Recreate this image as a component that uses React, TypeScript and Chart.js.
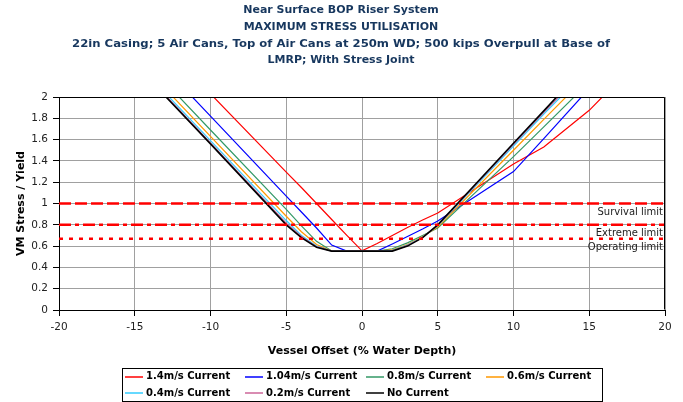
import React, { useEffect, useRef } from "react";
import { Chart, registerables } from "chart.js";

Chart.register(...registerables);

const TITLE_LINES = [
  "Near Surface BOP Riser System",
  "MAXIMUM STRESS UTILISATION",
  "22in Casing; 5 Air Cans, Top of Air Cans at 250m WD; 500 kips Overpull at Base of",
  "LMRP; With Stress Joint",
];
const X_AXIS_TITLE = "Vessel Offset (% Water Depth)";
const Y_AXIS_TITLE = "VM Stress / Yield";

const X_MIN = -20;
const X_MAX = 20;
const X_STEP = 5;
const Y_MIN = 0;
const Y_MAX = 2;
const Y_STEP = 0.2;

// Vessel offset (% water depth)
const OFFSETS = [-20, -15, -10, -5, -4, -3, -2, -1, 0, 1, 2, 3, 4, 5, 10, 12, 15, 20];

const SERIES_LABELS = [
  "1.4m/s Current",
  "1.04m/s Current",
  "0.8m/s Current",
  "0.6m/s Current",
  "0.4m/s Current",
  "0.2m/s Current",
  "No Current",
];

const CURRENT_1_40 = [3.51, 2.77, 2.03, 1.295, 1.15, 1.0, 0.85, 0.7, 0.555, 0.625, 0.7, 0.775, 0.845, 0.91, 1.37, 1.53, 1.875, 2.6];
const CURRENT_1_04 = [3.32, 2.57, 1.82, 1.07, 0.92, 0.77, 0.61, 0.553, 0.553, 0.553, 0.62, 0.69, 0.76, 0.835, 1.3, 1.61, 2.08, 2.86];
const CURRENT_0_80 = [3.19, 2.44, 1.69, 0.945, 0.79, 0.645, 0.555, 0.553, 0.553, 0.553, 0.575, 0.63, 0.7, 0.77, 1.44, 1.72, 2.14, 2.84];
const CURRENT_0_60 = [3.13, 2.38, 1.63, 0.88, 0.735, 0.615, 0.553, 0.553, 0.553, 0.553, 0.565, 0.615, 0.69, 0.78, 1.5, 1.79, 2.22, 2.93];
const CURRENT_0_40 = [3.09, 2.34, 1.59, 0.84, 0.7, 0.6, 0.553, 0.553, 0.553, 0.553, 0.56, 0.61, 0.685, 0.79, 1.54, 1.84, 2.27, 3.0];
const CURRENT_0_20 = [3.07, 2.32, 1.57, 0.815, 0.69, 0.595, 0.553, 0.553, 0.553, 0.553, 0.555, 0.605, 0.68, 0.795, 1.555, 1.855, 2.3, 3.05];
const NO_CURRENT = [3.06, 2.31, 1.56, 0.8, 0.68, 0.59, 0.553, 0.553, 0.553, 0.553, 0.553, 0.6, 0.68, 0.8, 1.565, 1.87, 2.33, 3.1];

const SERIES_COLORS = ["#ff0000", "#0000ff", "#339966", "#ff9900", "#33ccff", "#cc6699", "#000000"];

const LIMIT_LABELS = ["Survival limit", "Extreme limit", "Operating limit"];
const LIMIT_VALUES = [1.0, 0.8, 0.67];
const LIMIT_DASHES = [[12, 4], [12, 4, 4, 4], [4, 6]];

const FONT = "'DejaVu Sans', Verdana, sans-serif";

const titlePlugin = {
  id: "titleText",
  afterDraw(chart: any) {
    const ctx = chart.ctx;
    ctx.save();
    ctx.font = `bold 11px ${FONT}`;
    ctx.fillStyle = "#17375e";
    ctx.textAlign = "center";
    ctx.textBaseline = "middle";
    TITLE_LINES.forEach((t, i) => {
      const w = ctx.measureText(t).width;
      ctx.save();
      if (w > 400) {
        ctx.translate(341, 0);
        ctx.scale(1.06, 1);
        ctx.fillText(t, 0, 10.5 + i * 16.7);
      } else {
        ctx.fillText(t, 341, 10.5 + i * 16.7);
      }
      ctx.restore();
    });
    ctx.restore();
  },
};

const framePlugin = {
  id: "frame",
  afterDatasetsDraw(chart: any) {
    const { ctx, chartArea } = chart;
    ctx.save();
    ctx.strokeStyle = "#000";
    ctx.lineWidth = 1;
    const l = Math.round(chartArea.left) + 0.5;
    const t = Math.round(chartArea.top) + 0.5;
    const r = Math.round(chartArea.right) - 0.5;
    const b = Math.round(chartArea.bottom) - 0.5;
    ctx.beginPath();
    ctx.moveTo(l, t);
    ctx.lineTo(r, t);
    ctx.lineTo(r, b);
    ctx.stroke();
    ctx.font = `10px ${FONT}`;
    ctx.fillStyle = "#222";
    ctx.textAlign = "right";
    ctx.textBaseline = "middle";
    const ys = chart.scales.y;
    LIMIT_VALUES.forEach((v, k) => {
      ctx.fillText(LIMIT_LABELS[k], chartArea.right - 2, ys.getPixelForValue(v) + 8.5);
    });
    ctx.restore();
  },
};

const legendPlugin = {
  id: "gridLegend",
  afterDraw(chart: any) {
    const ctx = chart.ctx;
    ctx.save();
    ctx.setLineDash([]);
    ctx.strokeStyle = "#000";
    ctx.lineWidth = 1;
    ctx.strokeRect(122.5, 368.5, 480, 33);
    ctx.font = `bold 10px ${FONT}`;
    ctx.textAlign = "left";
    ctx.textBaseline = "middle";
    const cols = [125, 245, 366, 486];
    SERIES_LABELS.forEach((label, i) => {
      const x = cols[i % 4];
      const y = 376.5 + Math.floor(i / 4) * 16.5;
      ctx.strokeStyle = SERIES_COLORS[i];
      ctx.lineWidth = 1.5;
      ctx.beginPath();
      ctx.moveTo(x, Math.round(y));
      ctx.lineTo(x + 18, Math.round(y));
      ctx.stroke();
      ctx.fillStyle = "#000";
      ctx.fillText(label, x + 21, y);
    });
    ctx.restore();
  },
};

export default function App() {
  const ref = useRef<HTMLCanvasElement>(null);
  useEffect(() => {
    if (!ref.current) return;
    Chart.defaults.font.family = FONT;
    const seriesValues = [CURRENT_1_40, CURRENT_1_04, CURRENT_0_80, CURRENT_0_60, CURRENT_0_40, CURRENT_0_20, NO_CURRENT];
    const datasets: any[] = [
      ...seriesValues.map((vals, i) => ({
        label: SERIES_LABELS[i],
        data: OFFSETS.map((x, j) => ({ x, y: vals[j] })),
        borderColor: SERIES_COLORS[i],
        backgroundColor: SERIES_COLORS[i],
        borderWidth: i === seriesValues.length - 1 ? 1.6 : 1.2,
        pointRadius: 0,
        tension: 0,
        fill: false,
        order: 20 - i,
      })),
      ...LIMIT_VALUES.map((v, k) => ({
        label: LIMIT_LABELS[k],
        data: [
          { x: X_MIN, y: v },
          { x: X_MAX, y: v },
        ],
        borderColor: "#ff0000",
        backgroundColor: "#ff0000",
        borderWidth: 2.5,
        borderDash: LIMIT_DASHES[k],
        pointRadius: 0,
        fill: false,
        order: 0,
      })),
    ];
    const chart = new Chart(ref.current, {
      type: "line",
      data: { datasets },
      options: {
        responsive: false,
        animation: false,
        devicePixelRatio: 1,
        layout: { padding: { left: 0, right: 18, top: 97, bottom: 42 } },
        plugins: { legend: { display: false }, tooltip: { enabled: false }, title: { display: false } },
        scales: {
          x: {
            type: "linear",
            min: X_MIN,
            max: X_MAX,
            afterFit: (s: any) => {
              s.height = 50;
            },
            ticks: {
              stepSize: X_STEP,
              padding: 5,
              color: "#222",
              font: { size: 10.5, family: FONT },
            },
            grid: { color: "#a0a0a0", lineWidth: 1, tickColor: "#000", tickLength: 6 },
            border: { display: true, color: "#000", width: 1 },
            title: {
              display: true,
              text: X_AXIS_TITLE,
              color: "#000",
              font: { size: 11, weight: "bold", family: FONT },
              padding: { top: 0, bottom: 2 },
            },
          },
          y: {
            type: "linear",
            min: Y_MIN,
            max: Y_MAX,
            afterFit: (s: any) => {
              s.width = 59;
            },
            ticks: {
              stepSize: Y_STEP,
              padding: 5,
              color: "#222",
              font: { size: 10.5, family: FONT },
              callback: (v: any) => String(Math.round(Number(v) * 10) / 10),
            },
            grid: { color: "#a0a0a0", lineWidth: 1, tickColor: "#000", tickLength: 6 },
            border: { display: true, color: "#000", width: 1 },
            title: {
              display: true,
              text: Y_AXIS_TITLE,
              color: "#000",
              font: { size: 11, weight: "bold", family: FONT },
              padding: { top: 14.5, bottom: 0 },
            },
          },
        },
      } as any,
      plugins: [titlePlugin, framePlugin, legendPlugin],
    });
    return () => chart.destroy();
  }, []);
  return (
    <div style={{ position: "absolute", left: 0, top: 0, width: 683, height: 402, background: "#fff" }}>
      <canvas ref={ref} width={683} height={402} style={{ display: "block" }} />
    </div>
  );
}
